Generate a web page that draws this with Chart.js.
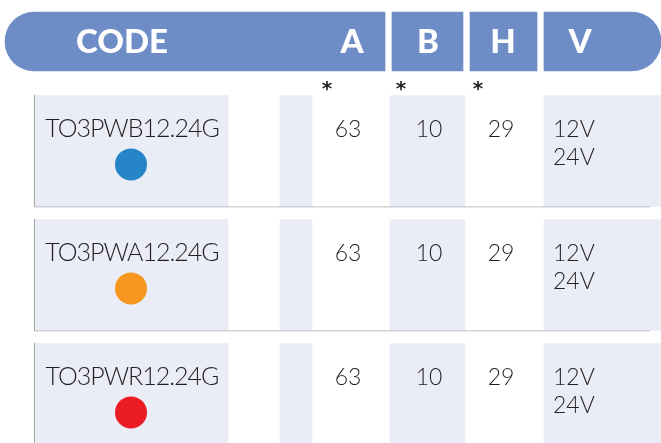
<!DOCTYPE html>
<html>
<head>
<meta charset="utf-8">
<script src="https://cdn.jsdelivr.net/npm/chart.js@4"></script>
<style>
    html, body { margin: 0; padding: 0; background: #fff; overflow: hidden; }
    canvas { display: block; }
</style>
</head>
<body>
<canvas id="specChart" width="661" height="443"></canvas>
<script>
// table content
const headers = ["CODE", "A", "B", "H", "V"];
const starred = ["A", "B", "H"];
const codes = ["TO3PWB12.24G", "TO3PWA12.24G", "TO3PWR12.24G"];
const ledColors = ["#2585c7", "#f7971f", "#ec1c24"];
const aValues = [63, 63, 63];
const bValues = [10, 10, 10];
const hValues = [29, 29, 29];
const voltages = [["12V", "24V"], ["12V", "24V"], ["12V", "24V"]];

// layout: x in px units of a 0..661 linear axis, y in row units (row i centred on i)
const cols = {
    CODE: { from: 34, to: 228, text: 132, head: 122 },
    gap:  { from: 280, to: 312 },
    A:    { text: 348, head: 352, star: 327 },
    B:    { from: 390, to: 465, text: 429, head: 428, star: 401 },
    H:    { text: 501, head: 503, star: 478 },
    V:    { from: 544, to: 661, text: 553, head: 580 }
};
const headSegments = [[5, 385], [392, 463], [470, 537], [544, 661]];
const headRow = -0.883;
const starRow = -0.53;
const dotShift = 0.108;

const headBlue = "#6e8cc6";
const cellBg = "#eaecf6";
const lineGrey = "#a9a9a9";
const ink = "#231f20";

//#region datasets
const headerBars = {
    label: "header",
    data: headSegments.map((s) => ({ x: s, y: headRow })),
    backgroundColor: headBlue,
    barThickness: 59,
    borderSkipped: false,
    borderRadius: (c) => {
        if (c.dataIndex === 0) return { topLeft: 29.5, bottomLeft: 29.5, topRight: 0, bottomRight: 0 };
        if (c.dataIndex === headSegments.length - 1) return { topLeft: 0, bottomLeft: 0, topRight: 29.5, bottomRight: 29.5 };
        return 0;
    },
    order: 3
};

const cellBars = {
    label: "cells",
    data: [],
    backgroundColor: cellBg,
    barThickness: 111,
    order: 2
};
codes.forEach((code, i) => {
    ["CODE", "gap", "B", "V"].forEach((k) => {
        cellBars.data.push({ x: [cols[k].from, cols[k].to], y: i });
    });
});

const frameBars = {
    label: "frame",
    data: codes.map((code, i) => ({ x: [34, 650], y: i })),
    backgroundColor: "rgba(0,0,0,0)",
    borderColor: lineGrey,
    borderWidth: { left: 1, bottom: 1, top: 0, right: 0 },
    borderSkipped: false,
    inflateAmount: 0,
    barThickness: 113,
    order: 1
};

const dots = {
    type: "scatter",
    label: "led",
    data: codes.map((code, i) => ({ x: cols.CODE.text - 1, y: i + dotShift })),
    pointBackgroundColor: ledColors,
    pointBorderWidth: 0,
    pointRadius: 16,
    order: 0
};
//#endregion

// text of the table, placed through the scales
const tableText = {
    id: "tableText",
    afterDatasetsDraw(chart) {
        const { ctx, scales: { x, y } } = chart;
        ctx.save();
        ctx.textAlign = "center";
        ctx.textBaseline = "alphabetic";

        ctx.fillStyle = "#fff";
        ctx.font = "900 33px Lato";
        const hy = y.getPixelForValue(headRow) + 11.5;
        headers.forEach((h) => ctx.fillText(h, x.getPixelForValue(cols[h].head), hy));

        ctx.fillStyle = ink;
        ctx.font = "bold 20px 'DejaVu Sans'";
        starred.forEach((s) => ctx.fillText("*", x.getPixelForValue(cols[s].star), y.getPixelForValue(starRow) + 10));

        codes.forEach((code, i) => {
            const cy = y.getPixelForValue(i);
            ctx.textAlign = "center";
            ctx.font = "300 25px Lato";
            ctx.letterSpacing = "-1px";
            ctx.fillText(code, x.getPixelForValue(cols.CODE.text), cy - 14);
            ctx.letterSpacing = "0px";
            ctx.font = "300 23px Lato";
            ctx.fillText(String(aValues[i]), x.getPixelForValue(cols.A.text), cy - 14);
            ctx.fillText(String(bValues[i]), x.getPixelForValue(cols.B.text), cy - 14);
            ctx.fillText(String(hValues[i]), x.getPixelForValue(cols.H.text), cy - 14);
            ctx.textAlign = "left";
            voltages[i].forEach((v, j) => {
                ctx.fillText(v, x.getPixelForValue(cols.V.text), cy - 14 + j * 28);
            });
        });
        ctx.restore();
    }
};

const config = {
    type: "bar",
    data: { datasets: [dots, frameBars, cellBars, headerBars] },
    plugins: [tableText],
    options: {
        indexAxis: "y",
        responsive: false,
        animation: false,
        devicePixelRatio: 1,
        events: [],
        layout: { padding: 0, autoPadding: false },
        datasets: { bar: { grouped: false } },
        scales: {
            x: { type: "linear", min: 0, max: 661, offset: false, display: false },
            y: { type: "linear", min: -1.2177, max: 2.3548, reverse: true, offset: false, display: false }
        },
        plugins: {
            legend: { display: false },
            tooltip: { enabled: false }
        }
    }
};

const specChart = new Chart(document.getElementById("specChart"), config);
</script>
</body>
</html>
